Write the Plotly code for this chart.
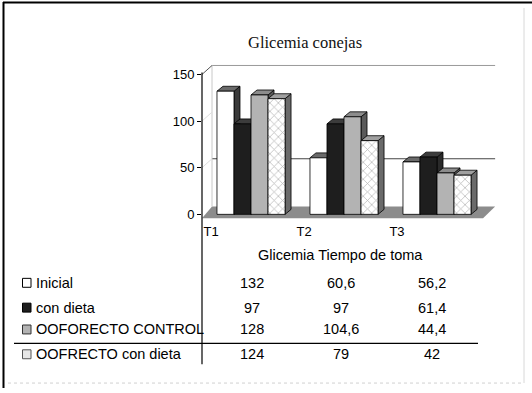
import plotly.graph_objects as go

# ---------------- data ----------------
categories = ["T1", "T2", "T3"]
series_names = ["Inicial", "con dieta", "OOFORECTO CONTROL", "OOFRECTO con dieta"]
inicial = [132, 60.6, 56.2]
con_dieta = [97, 97, 61.4]
ooforecto_control = [128, 104.6, 44.4]
oofrecto_con_dieta = [124, 79, 42]
y_ticks = [0, 50, 100, 150]
chart_title = "Glicemia conejas"
table_title = "Glicemia Tiempo de toma"

series_values = [inicial, con_dieta, ooforecto_control, oofrecto_con_dieta]

# ---------------- geometry helpers ----------------
W, H = 532, 393


def px(x):
    return x / W


def py(y):
    return 1 - y / H


X_RANGE = [-0.527, 2.75]
Y_RANGE = [-5, 165]
X_DOMAIN = [px(202), px(506.75)]
Y_DOMAIN = [py(220.7), py(60.9)]

BAR_W = 0.183          # width of one bar (category units)
BDX, BDY = 0.0645, 5.3  # bar depth offset
WDX, WDY = 0.1075, 9.6  # wall depth offset
FLOOR_FRONT_Y, FLOOR_BACK_Y = -4.3, 8.5
FLOOR_R = 2.495
FLOOR_DX = 0.13
AXIS_X = X_RANGE[0]

styles = [
    dict(front="#ffffff", top="#6a6a6a", side="#3a3a3a", pattern=None),
    dict(front="#1e1e1e", top="#3c3c3c", side="#2a2a2a", pattern=None),
    dict(front="#b3b3b3", top="#8c8c8c", side="#5a5a5a", pattern=None),
    dict(front="#ffffff", top="#a0a0a0", side="#6a6a6a",
         pattern=dict(shape="x", fgcolor="#666666", bgcolor="#ffffff", size=6, solidity=0.22)),
]

FONT_SANS = "Liberation Sans, Arial, sans-serif"
FONT_SERIF = "Liberation Serif, Times New Roman, serif"

fig = go.Figure()


def poly(xs, ys, fill, pattern=None):
    kw = dict(
        x=xs + [xs[0]], y=ys + [ys[0]], mode="lines", fill="toself",
        fillcolor=fill, line=dict(color="#000000", width=0.8),
        hoverinfo="skip", showlegend=False,
    )
    if pattern is not None:
        kw["fillpattern"] = pattern
    fig.add_trace(go.Scatter(**kw))


for g in range(len(categories)):
    for i, vals in enumerate(series_values):
        v = vals[g]
        st = styles[i]
        xl = g - 2 * BAR_W + i * BAR_W
        xr = xl + BAR_W
        # side face
        poly([xr, xr, xr + BDX, xr + BDX], [0, v, v + BDY, BDY], st["side"])
        # top face
        poly([xl, xl + BDX, xr + BDX, xr], [v, v + BDY, v + BDY, v], st["top"])
        # front face
        poly([xl, xl, xr, xr], [0, v, v, 0], st["front"], st["pattern"])

# ---------------- shapes: walls, floor, frame, table lines ----------------
shapes = []
# floor
shapes.append(dict(
    type="path", xref="x", yref="y", layer="below",
    path=f"M {AXIS_X},{FLOOR_FRONT_Y} L {FLOOR_R},{FLOOR_FRONT_Y} "
         f"L {FLOOR_R + FLOOR_DX},{FLOOR_BACK_Y} L {AXIS_X + WDX},{FLOOR_BACK_Y} Z",
    fillcolor="#8c8c8c", line=dict(width=0),
))
# back wall top line
shapes.append(dict(type="line", xref="x", yref="y", layer="below",
                   x0=AXIS_X + WDX, x1=FLOOR_R + FLOOR_DX, y0=150 + WDY, y1=150 + WDY,
                   line=dict(color="#9a9a9a", width=1)))
# back wall 50 gridline
shapes.append(dict(type="line", xref="x", yref="y", layer="below",
                   x0=AXIS_X + WDX, x1=FLOOR_R + FLOOR_DX, y0=50 + WDY, y1=50 + WDY,
                   line=dict(color="#444444", width=1)))
# back wall left edge
shapes.append(dict(type="line", xref="x", yref="y", layer="below",
                   x0=AXIS_X + WDX, x1=AXIS_X + WDX, y0=FLOOR_BACK_Y, y1=150 + WDY,
                   line=dict(color="#c8c8c8", width=1)))
# side wall top diagonal
shapes.append(dict(type="line", xref="x", yref="y", layer="below",
                   x0=AXIS_X, x1=AXIS_X + WDX, y0=150, y1=150 + WDY,
                   line=dict(color="#555555", width=1)))
# side wall 50 / 100 hints
for t in [50, 100]:
    shapes.append(dict(type="line", xref="x", yref="y", layer="below",
                       x0=AXIS_X, x1=AXIS_X + WDX, y0=t, y1=t + WDY,
                       line=dict(color="#dddddd", width=1)))

# front vertical axis line (extends through the table)
shapes.append(dict(type="line", xref="paper", yref="paper",
                   x0=px(202), x1=px(202), y0=py(73), y1=py(367),
                   line=dict(color="#000000", width=1.2)))
# table horizontal line
shapes.append(dict(type="line", xref="paper", yref="paper",
                   x0=px(14), x1=px(478), y0=py(346), y1=py(346),
                   line=dict(color="#000000", width=1.2)))
# frame
shapes.append(dict(type="line", xref="paper", yref="paper",
                   x0=px(3), x1=px(532), y0=py(2.5), y1=py(2.5),
                   line=dict(color="#000000", width=2)))
shapes.append(dict(type="line", xref="paper", yref="paper",
                   x0=px(3.5), x1=px(3.5), y0=py(2), y1=py(391),
                   line=dict(color="#000000", width=2)))
shapes.append(dict(type="line", xref="paper", yref="paper",
                   x0=px(524), x1=px(524), y0=py(8), y1=py(386),
                   line=dict(color="#d8d8d8", width=1)))
shapes.append(dict(type="line", xref="paper", yref="paper",
                   x0=px(8), x1=px(524), y0=py(386), y1=py(386),
                   line=dict(color="#d0d0d0", width=1, dash="dot")))

# ---------------- table ----------------
row_y = [285, 310, 332, 357]
col_x = [0.01, 0.97, 1.95]
legend_keys = [
    dict(fill="#ffffff", line="#000000"),
    dict(fill="#1e1e1e", line="#000000"),
    dict(fill="#b3b3b3", line="#333333"),
    dict(fill="#e6e6e6", line="#555555"),
]

annotations = []
annotations.append(dict(text=chart_title, xref="paper", yref="paper",
                        x=px(305), y=py(43), showarrow=False, xanchor="center", yanchor="middle",
                        font=dict(family=FONT_SERIF, size=16.5, color="#111111")))
annotations.append(dict(text=table_title, xref="paper", yref="paper",
                        x=px(340), y=py(257), showarrow=False, xanchor="center", yanchor="middle",
                        font=dict(family=FONT_SANS, size=14.5, color="#000000")))

for r, name in enumerate(series_names):
    yc = row_y[r]
    annotations.append(dict(text=name, xref="paper", yref="paper",
                            x=px(34), y=py(yc), showarrow=False, xanchor="left", yanchor="middle",
                            font=dict(family=FONT_SANS, size=14.5, color="#000000")))
    k = legend_keys[r]
    shapes.append(dict(type="rect", xref="paper", yref="paper",
                       x0=px(22.5), x1=px(31), y0=py(yc - 4.5), y1=py(yc + 4.5),
                       fillcolor=k["fill"], line=dict(color=k["line"], width=1)))
    for g, v in enumerate(series_values[r]):
        label = f"{v:g}".replace(".", ",")
        annotations.append(dict(text=label, xref="x", yref="paper",
                                x=col_x[g], y=py(yc), showarrow=False,
                                xanchor="center", yanchor="middle",
                                font=dict(family=FONT_SANS, size=14.5, color="#000000")))

fig.update_layout(
    width=W, height=H,
    margin=dict(l=0, r=0, t=0, b=0),
    paper_bgcolor="#ffffff", plot_bgcolor="rgba(0,0,0,0)",
    showlegend=False,
    shapes=shapes,
    annotations=annotations,
    xaxis=dict(
        domain=X_DOMAIN, range=X_RANGE, showgrid=False, zeroline=False, showline=False,
        tickvals=[g - 0.43 for g in range(len(categories))], ticktext=categories,
        ticks="", ticklabelstandoff=3,
        tickfont=dict(family=FONT_SANS, size=13, color="#000000"),
        fixedrange=True,
    ),
    yaxis=dict(
        domain=Y_DOMAIN, range=Y_RANGE, showgrid=False, zeroline=False, showline=False,
        tickvals=y_ticks, ticks="outside", ticklen=4, tickcolor="#000000",
        tickfont=dict(family=FONT_SANS, size=13, color="#000000"),
        fixedrange=True,
    ),
)

fig.write_html(
    "out.html",
    config=dict(displayModeBar=False),
    post_script="document.body.style.margin='0';document.body.style.overflow='hidden';",
)
